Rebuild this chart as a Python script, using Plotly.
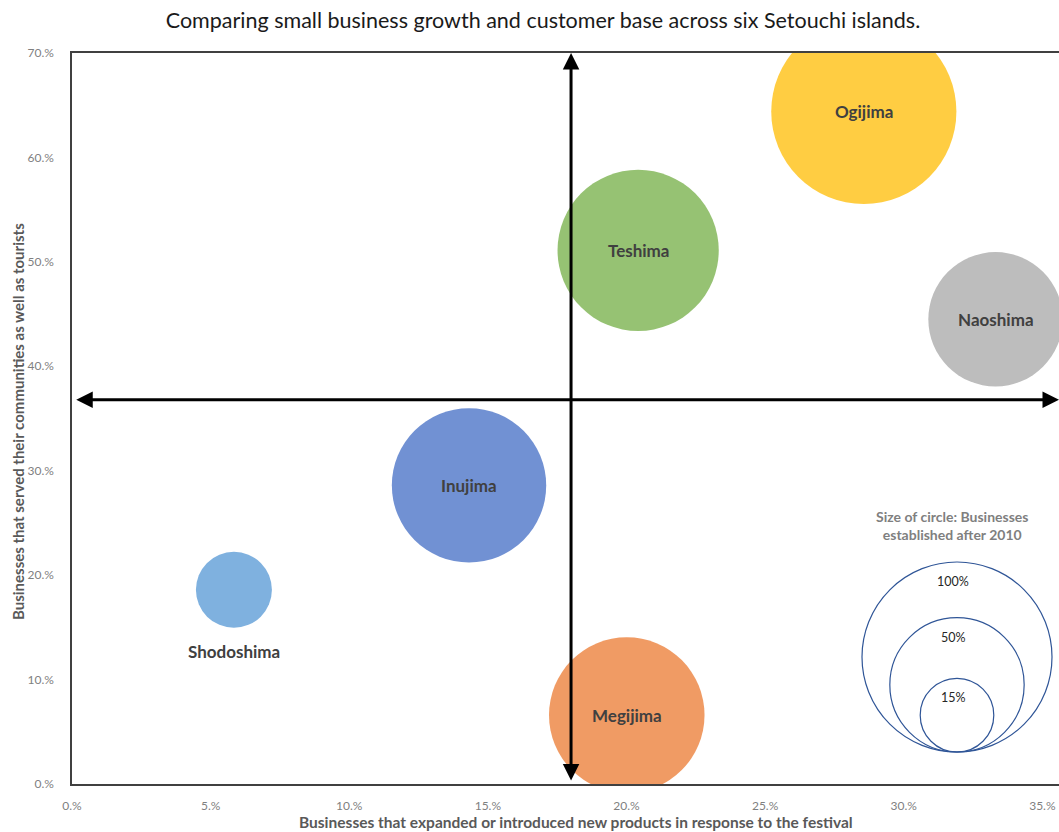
import plotly.graph_objects as go
import math

# ---- data ----
islands = ["Ogijima", "Teshima", "Naoshima", "Inujima", "Shodoshima", "Megijima"]
expanded_pct = [28.56, 20.42, 33.31, 14.32, 5.84, 20.01]      # x: % businesses expanded / new products
served_pct = [64.4, 51.1, 44.5, 28.6, 18.6, 6.6]              # y: % served communities and tourists
established_after_2010 = [95.0, 72.0, 50.0, 66.0, 16.0, 67.0]  # bubble size, %
colors = ["#FFCD42", "#96C273", "#BDBDBD", "#7191D3", "#7FB1DF", "#F09B64"]

x_ticks = [0, 5, 10, 15, 20, 25, 30, 35]
x_ticktext = ["0.%", "5.%", "10.%", "15.%", "20.%", "25.%", "30.%", "35.%"]
y_ticks = [0, 10, 20, 30, 40, 50, 60, 70]
y_ticktext = ["0.%", "10.%", "20.%", "30.%", "40.%", "50.%", "60.%", "70.%"]

ref_x = 18.0   # vertical reference arrow
ref_y = 36.8   # horizontal reference arrow

legend_sizes = [100, 50, 15]
legend_labels = ["100%", "50%", "15%"]

# ---- styling ----
W, H = 1059, 832
ML, MR, MT, MB = 72, 0, 53, 48
X_MAX = 35.6
R100 = 95.0  # pixel radius for a 100% bubble
sizeref = 2 * 100 / (2 * R100) ** 2
FONT = "Lato"

fig = go.Figure()
fig.add_trace(go.Scatter(
    x=expanded_pct, y=served_pct, mode="markers",
    marker=dict(size=established_after_2010, sizemode="area", sizeref=sizeref,
                color=colors, opacity=1, line=dict(width=0)),
    hoverinfo="text", text=islands, showlegend=False, cliponaxis=True,
))

annotations = []
# reference arrows (double headed)
annotations.append(dict(x=ref_x, y=70, ax=ref_x, ay=0.2, xref="x", yref="y", axref="x", ayref="y",
                        showarrow=True, arrowhead=2, arrowside="end+start", arrowsize=1.1,
                        arrowwidth=3, arrowcolor="#000000", text=""))
annotations.append(dict(x=X_MAX, y=ref_y, ax=0.1, ay=ref_y, xref="x", yref="y", axref="x", ayref="y",
                        showarrow=True, arrowhead=2, arrowside="end+start", arrowsize=1.1,
                        arrowwidth=3, arrowcolor="#000000", text=""))

# bubble labels
for name, xv, yv in zip(islands, expanded_pct, served_pct):
    shift = -62 if name == "Shodoshima" else 0
    annotations.append(dict(x=xv, y=yv, xref="x", yref="y", text=f"<b>{name}</b>", showarrow=False,
                            yshift=shift, font=dict(family=FONT, size=17, color="#404040")))

# axis titles
annotations.append(dict(x=(576 - ML) / (W - ML - MR), y=(H - MB - 822) / (H - MT - MB), xref="paper", yref="paper",
                        text="<b>Businesses that expanded or introduced new products in response to the festival</b>",
                        showarrow=False, xanchor="center", yanchor="middle",
                        font=dict(family=FONT, size=15.5, color="#595959")))
annotations.append(dict(x=(18 - ML) / (W - ML - MR), y=(H - MB - 422) / (H - MT - MB), xref="paper", yref="paper",
                        text="<b>Businesses that served their communities as well as tourists</b>", textangle=-90,
                        showarrow=False, xanchor="center", yanchor="middle",
                        font=dict(family=FONT, size=15, color="#595959")))

# size legend
pw, ph = W - ML - MR, H - MT - MB
lx = (957 - ML) / pw
lbottom = (H - MB - 752) / ph
annotations.append(dict(x=(952 - ML) / pw, y=(H - MB - 525) / ph, xref="paper", yref="paper",
                        text="<b>Size of circle: Businesses<br>established after 2010</b>",
                        showarrow=False, xanchor="center", yanchor="middle",
                        font=dict(family=FONT, size=14, color="#7F7F7F")))
shapes = []
label_y_px = [581, 637, 697]
for s, lab, ly in zip(legend_sizes, legend_labels, label_y_px):
    r = R100 * math.sqrt(s / 100)
    shapes.append(dict(type="circle", xref="paper", yref="paper", xsizemode="pixel", ysizemode="pixel",
                       xanchor=lx, yanchor=lbottom, x0=-r, x1=r, y0=0, y1=2 * r,
                       line=dict(color="#2F5597", width=1.2), fillcolor="rgba(0,0,0,0)"))
    annotations.append(dict(x=(953 - ML) / pw, y=(H - MB - ly) / ph, xref="paper", yref="paper", text=lab,
                            showarrow=False, xanchor="center", yanchor="middle",
                            font=dict(family=FONT, size=12.5, color="#262626")))

fig.update_layout(
    width=W, height=H,
    margin=dict(l=ML, r=MR, t=MT, b=MB, pad=0),
    paper_bgcolor="white", plot_bgcolor="white",
    title=dict(text="Comparing small business growth and customer base across six Setouchi islands.",
               x=543 / W, xanchor="center", y=1 - 20 / H, yanchor="middle",
               font=dict(family=FONT, size=21.5, color="#1A1A1A")),
    xaxis=dict(range=[0, X_MAX], tickvals=x_ticks, ticktext=x_ticktext, showgrid=False, zeroline=False,
               showline=True, linecolor="#404040", linewidth=1.5, mirror=True, ticks="",
               ticklabelstandoff=10, tickfont=dict(family=FONT, size=12, color="#7F7F7F")),
    yaxis=dict(range=[0, 70], tickvals=y_ticks, ticktext=y_ticktext, showgrid=False, zeroline=False,
               showline=True, linecolor="#404040", linewidth=1.5, mirror=False, ticks="",
               ticklabelstandoff=14, tickfont=dict(family=FONT, size=12, color="#7F7F7F")),
    annotations=annotations, shapes=shapes,
    showlegend=False,
)

fig.write_html("out.html")
